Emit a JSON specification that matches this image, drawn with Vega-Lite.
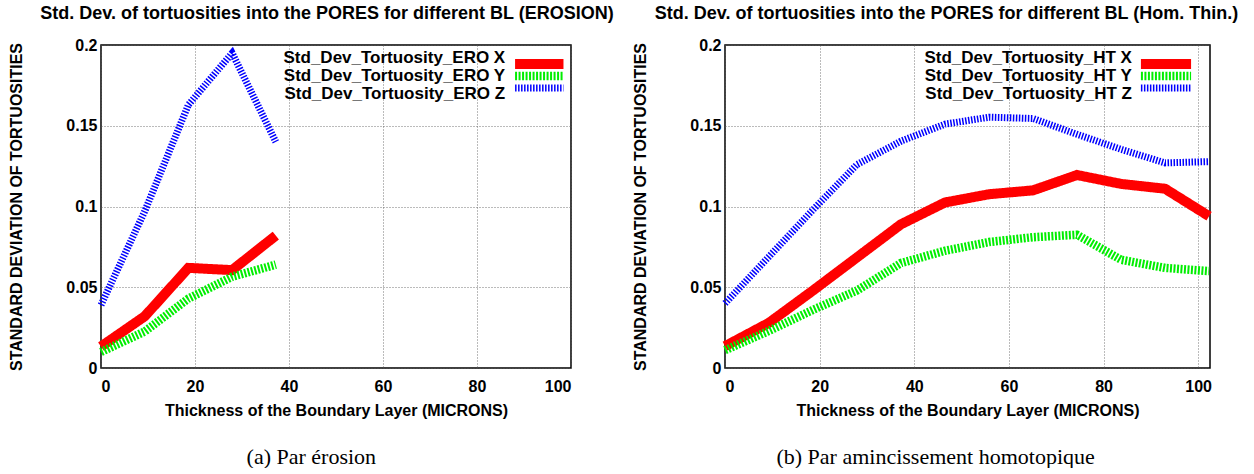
{
  "$schema": "https://vega.github.io/schema/vega-lite/v6.json",
  "padding": {"left": 8, "top": 4, "right": 5, "bottom": 0},
  "background": "white",
  "datasets": {
    "ero": [
      {"bl": 0, "series": "Std_Dev_Tortuosity_ERO X", "v": 0.0133},
      {"bl": 9.3, "series": "Std_Dev_Tortuosity_ERO X", "v": 0.032},
      {"bl": 18.6, "series": "Std_Dev_Tortuosity_ERO X", "v": 0.062},
      {"bl": 27.9, "series": "Std_Dev_Tortuosity_ERO X", "v": 0.0606},
      {"bl": 37.2, "series": "Std_Dev_Tortuosity_ERO X", "v": 0.082},
      {"bl": 0, "series": "Std_Dev_Tortuosity_ERO Y", "v": 0.0099},
      {"bl": 9.3, "series": "Std_Dev_Tortuosity_ERO Y", "v": 0.0226},
      {"bl": 18.6, "series": "Std_Dev_Tortuosity_ERO Y", "v": 0.043},
      {"bl": 27.9, "series": "Std_Dev_Tortuosity_ERO Y", "v": 0.0565},
      {"bl": 37.2, "series": "Std_Dev_Tortuosity_ERO Y", "v": 0.064},
      {"bl": 0, "series": "Std_Dev_Tortuosity_ERO Z", "v": 0.039},
      {"bl": 9.3, "series": "Std_Dev_Tortuosity_ERO Z", "v": 0.097},
      {"bl": 18.6, "series": "Std_Dev_Tortuosity_ERO Z", "v": 0.163},
      {"bl": 27.9, "series": "Std_Dev_Tortuosity_ERO Z", "v": 0.195},
      {"bl": 37.2, "series": "Std_Dev_Tortuosity_ERO Z", "v": 0.14}
    ],
    "ht": [
      {"bl": 0, "series": "Std_Dev_Tortuosity_HT X", "v": 0.0135},
      {"bl": 9.3, "series": "Std_Dev_Tortuosity_HT X", "v": 0.028},
      {"bl": 18.6, "series": "Std_Dev_Tortuosity_HT X", "v": 0.048},
      {"bl": 27.9, "series": "Std_Dev_Tortuosity_HT X", "v": 0.0685},
      {"bl": 37.2, "series": "Std_Dev_Tortuosity_HT X", "v": 0.089},
      {"bl": 46.5, "series": "Std_Dev_Tortuosity_HT X", "v": 0.1025},
      {"bl": 55.8, "series": "Std_Dev_Tortuosity_HT X", "v": 0.1076},
      {"bl": 65.1, "series": "Std_Dev_Tortuosity_HT X", "v": 0.110},
      {"bl": 74.4, "series": "Std_Dev_Tortuosity_HT X", "v": 0.1195},
      {"bl": 83.7, "series": "Std_Dev_Tortuosity_HT X", "v": 0.114},
      {"bl": 93.0, "series": "Std_Dev_Tortuosity_HT X", "v": 0.111},
      {"bl": 102.3, "series": "Std_Dev_Tortuosity_HT X", "v": 0.094},
      {"bl": 0, "series": "Std_Dev_Tortuosity_HT Y", "v": 0.011},
      {"bl": 9.3, "series": "Std_Dev_Tortuosity_HT Y", "v": 0.023},
      {"bl": 18.6, "series": "Std_Dev_Tortuosity_HT Y", "v": 0.036},
      {"bl": 27.9, "series": "Std_Dev_Tortuosity_HT Y", "v": 0.048},
      {"bl": 37.2, "series": "Std_Dev_Tortuosity_HT Y", "v": 0.065},
      {"bl": 46.5, "series": "Std_Dev_Tortuosity_HT Y", "v": 0.0726},
      {"bl": 55.8, "series": "Std_Dev_Tortuosity_HT Y", "v": 0.078},
      {"bl": 65.1, "series": "Std_Dev_Tortuosity_HT Y", "v": 0.081},
      {"bl": 74.4, "series": "Std_Dev_Tortuosity_HT Y", "v": 0.0825},
      {"bl": 83.7, "series": "Std_Dev_Tortuosity_HT Y", "v": 0.067},
      {"bl": 93.0, "series": "Std_Dev_Tortuosity_HT Y", "v": 0.062},
      {"bl": 102.3, "series": "Std_Dev_Tortuosity_HT Y", "v": 0.060},
      {"bl": 0, "series": "Std_Dev_Tortuosity_HT Z", "v": 0.040},
      {"bl": 9.3, "series": "Std_Dev_Tortuosity_HT Z", "v": 0.069},
      {"bl": 18.6, "series": "Std_Dev_Tortuosity_HT Z", "v": 0.098},
      {"bl": 27.9, "series": "Std_Dev_Tortuosity_HT Z", "v": 0.126},
      {"bl": 37.2, "series": "Std_Dev_Tortuosity_HT Z", "v": 0.1405},
      {"bl": 46.5, "series": "Std_Dev_Tortuosity_HT Z", "v": 0.151},
      {"bl": 55.8, "series": "Std_Dev_Tortuosity_HT Z", "v": 0.1553},
      {"bl": 65.1, "series": "Std_Dev_Tortuosity_HT Z", "v": 0.1545},
      {"bl": 74.4, "series": "Std_Dev_Tortuosity_HT Z", "v": 0.1447},
      {"bl": 83.7, "series": "Std_Dev_Tortuosity_HT Z", "v": 0.1354},
      {"bl": 93.0, "series": "Std_Dev_Tortuosity_HT Z", "v": 0.127},
      {"bl": 102.3, "series": "Std_Dev_Tortuosity_HT Z", "v": 0.1278}
    ]
  },
  "config": {
    "font": "Liberation Sans",
    "view": {"stroke": "#000", "strokeWidth": 1.5},
    "axis": {
      "labelFont": "Liberation Sans", "labelFontSize": 16, "labelFontWeight": "bold", "labelColor": "#000",
      "titleFont": "Liberation Sans", "titleFontSize": 16, "titleFontWeight": "bold", "titleColor": "#000",
      "grid": true, "gridColor": "#555", "gridDash": [1, 2], "gridWidth": 1, "gridOpacity": 0.8,
      "ticks": false, "domain": false
    },
    "axisX": {"labelPadding": 10, "titlePadding": 8},
    "axisY": {"labelPadding": 4, "titlePadding": 41},
    "title": {"font": "Liberation Sans", "fontSize": 18, "fontWeight": "bold", "color": "#000"}
  },
  "resolve": {"scale": {"color": "independent", "strokeWidth": "independent", "strokeDash": "independent"}},
  "spacing": 17,
  "hconcat": [
    {
      "title": {"text": "(a) Par érosion", "orient": "bottom", "anchor": "middle", "font": "Liberation Serif", "fontSize": 22, "fontWeight": "normal", "offset": 28},
      "vconcat": [
        {
          "width": 470, "height": 323,
          "title": {"text": "Std. Dev. of tortuosities into the PORES for different BL (EROSION)", "offset": 14, "dx": -9},
          "data": {"name": "ero"},
          "resolve": {"scale": {"y": "independent"}},
          "layer": [
            {
              "mark": {"type": "line", "strokeCap": "butt", "strokeJoin": "miter"},
              "encoding": {
                "x": {"field": "bl", "type": "quantitative", "scale": {"domain": [0, 100], "nice": false},
                      "axis": {"values": [0, 20, 40, 60, 80, 100], "title": "Thickness of the Boundary Layer (MICRONS)"}},
                "y": {"field": "v", "type": "quantitative", "scale": {"domain": [0, 0.2], "nice": false},
                      "axis": {"values": [0, 0.05, 0.1, 0.15, 0.2], "format": "~g", "title": "STANDARD DEVIATION OF TORTUOSITIES"}},
                "color": {"field": "series", "type": "nominal", "legend": null,
                          "scale": {"domain": ["Std_Dev_Tortuosity_ERO X", "Std_Dev_Tortuosity_ERO Y", "Std_Dev_Tortuosity_ERO Z"], "range": ["#ff0000", "#00ee00", "#0000ff"]}},
                "strokeWidth": {"field": "series", "type": "nominal", "legend": null,
                          "scale": {"domain": ["Std_Dev_Tortuosity_ERO X", "Std_Dev_Tortuosity_ERO Y", "Std_Dev_Tortuosity_ERO Z"], "range": [10, 7, 6]}},
                "strokeDash": {"field": "series", "type": "nominal", "legend": null,
                          "scale": {"domain": ["Std_Dev_Tortuosity_ERO X", "Std_Dev_Tortuosity_ERO Y", "Std_Dev_Tortuosity_ERO Z"], "range": [[1, 0], [2, 1.5], [1.5, 1.5]]}}
              }
            },
            {
              "transform": [{"filter": "datum.bl == 0"}],
              "mark": {"type": "text", "align": "right", "baseline": "middle", "font": "Liberation Sans", "fontSize": 17, "fontWeight": "bold", "color": "#000"},
              "encoding": {
                "x": {"datum": 86},
                "y": {"field": "series", "type": "nominal", "axis": null, "scale": {"range": [13, 49], "padding": 0}},
                "text": {"field": "series"}
              }
            },
            {
              "transform": [{"filter": "datum.bl == 0"}],
              "mark": {"type": "rule", "strokeCap": "butt"},
              "encoding": {
                "x": {"datum": 88.1},
                "x2": {"datum": 98.4},
                "y": {"field": "series", "type": "nominal", "axis": null, "scale": {"range": [13, 49], "padding": 0}},
                "color": {"field": "series", "type": "nominal", "legend": null},
                "strokeWidth": {"field": "series", "type": "nominal", "legend": null},
                "strokeDash": {"field": "series", "type": "nominal", "legend": null}
              }
            }
          ]
        }
      ]
    },
    {
      "title": {"text": "(b) Par amincissement homotopique", "orient": "bottom", "anchor": "middle", "font": "Liberation Serif", "fontSize": 22, "fontWeight": "normal", "offset": 28},
      "vconcat": [
        {
          "width": 485, "height": 323,
          "title": {"text": "Std. Dev. of tortuosities into the PORES for different BL (Hom. Thin.)", "offset": 14, "dx": -21},
          "data": {"name": "ht"},
          "resolve": {"scale": {"y": "independent"}},
          "layer": [
            {
              "mark": {"type": "line", "strokeCap": "butt", "strokeJoin": "miter"},
              "encoding": {
                "x": {"field": "bl", "type": "quantitative", "scale": {"domain": [0, 102.5], "nice": false},
                      "axis": {"values": [0, 20, 40, 60, 80, 100], "title": "Thickness of the Boundary Layer (MICRONS)"}},
                "y": {"field": "v", "type": "quantitative", "scale": {"domain": [0, 0.2], "nice": false},
                      "axis": {"values": [0, 0.05, 0.1, 0.15, 0.2], "format": "~g", "title": "STANDARD DEVIATION OF TORTUOSITIES"}},
                "color": {"field": "series", "type": "nominal", "legend": null,
                          "scale": {"domain": ["Std_Dev_Tortuosity_HT X", "Std_Dev_Tortuosity_HT Y", "Std_Dev_Tortuosity_HT Z"], "range": ["#ff0000", "#00ee00", "#0000ff"]}},
                "strokeWidth": {"field": "series", "type": "nominal", "legend": null,
                          "scale": {"domain": ["Std_Dev_Tortuosity_HT X", "Std_Dev_Tortuosity_HT Y", "Std_Dev_Tortuosity_HT Z"], "range": [10, 7, 6]}},
                "strokeDash": {"field": "series", "type": "nominal", "legend": null,
                          "scale": {"domain": ["Std_Dev_Tortuosity_HT X", "Std_Dev_Tortuosity_HT Y", "Std_Dev_Tortuosity_HT Z"], "range": [[1, 0], [2, 1.5], [1.5, 1.5]]}}
              }
            },
            {
              "transform": [{"filter": "datum.bl == 0"}],
              "mark": {"type": "text", "align": "right", "baseline": "middle", "font": "Liberation Sans", "fontSize": 17, "fontWeight": "bold", "color": "#000"},
              "encoding": {
                "x": {"datum": 86},
                "y": {"field": "series", "type": "nominal", "axis": null, "scale": {"range": [13, 49], "padding": 0}},
                "text": {"field": "series"}
              }
            },
            {
              "transform": [{"filter": "datum.bl == 0"}],
              "mark": {"type": "rule", "strokeCap": "butt"},
              "encoding": {
                "x": {"datum": 87.9},
                "x2": {"datum": 98.5},
                "y": {"field": "series", "type": "nominal", "axis": null, "scale": {"range": [13, 49], "padding": 0}},
                "color": {"field": "series", "type": "nominal", "legend": null},
                "strokeWidth": {"field": "series", "type": "nominal", "legend": null},
                "strokeDash": {"field": "series", "type": "nominal", "legend": null}
              }
            }
          ]
        }
      ]
    }
  ]
}
